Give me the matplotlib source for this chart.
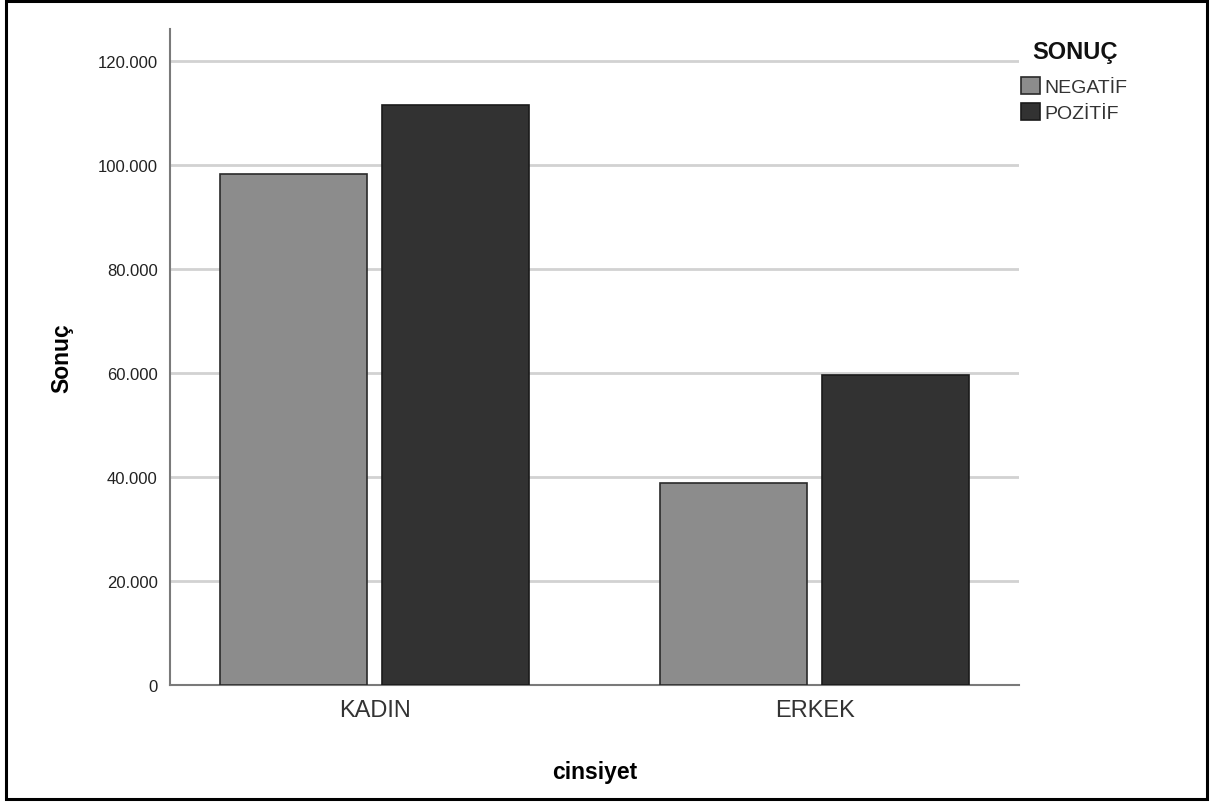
import matplotlib
matplotlib.use("Agg")
import matplotlib.pyplot as plt
import numpy as np
from matplotlib.patches import Rectangle
from matplotlib.ticker import FuncFormatter

categories = ["KADIN", "ERKEK"]
series_names = ["NEGATİF", "POZİTİF"]
negatif = [98300, 38900]
pozitif = [111600, 59700]
yticks = [0, 20000, 40000, 60000, 80000, 100000, 120000]
colors = ["#8c8c8c", "#323232"]

W, H = 1211, 803
fig = plt.figure(figsize=(W / 100, H / 100), dpi=100)
fig.patch.set_facecolor("white")
plt.rcParams["font.family"] = ["Liberation Sans", "DejaVu Sans"]

def fx(px):
    return px / W

def fy(py):
    return 1 - py / H

ax = fig.add_axes([fx(170), fy(686), fx(1019) - fx(170), fy(30) - fy(686)])

x = np.arange(len(categories))
bw = 0.334
off = 0.184
b1 = ax.bar(x - off, negatif, bw, color=colors[0], edgecolor="#2a2a2a", linewidth=1.2, label=series_names[0], zorder=3)
b2 = ax.bar(x + off, pozitif, bw, color=colors[1], edgecolor="#1a1a1a", linewidth=1.2, label=series_names[1], zorder=3)

ax.set_xlim(-0.465, 1.464)
ax.set_ylim(0, 126150)
ax.set_yticks(yticks)
ax.yaxis.set_major_formatter(FuncFormatter(lambda v, p: "0" if v == 0 else f"{int(v):,}".replace(",", ".")))
ax.set_xticks(x)
ax.set_xticklabels(categories, fontsize=17, color="#333333")
ax.tick_params(axis="y", length=0, labelsize=12, pad=9, labelcolor="#222222")
ax.tick_params(axis="x", length=0, pad=10)

ax.grid(axis="y", color="#d2d2d2", linewidth=2, zorder=0)
ax.set_axisbelow(True)
for s in ["top", "right"]:
    ax.spines[s].set_visible(False)
for s in ["left", "bottom"]:
    ax.spines[s].set_color("#7a7a7a")
    ax.spines[s].set_linewidth(1.5)

ax.set_ylabel("Sonuç", fontsize=16.5, fontweight="bold", labelpad=17)
ax.set_xlabel("cinsiyet", fontsize=16.5, fontweight="bold", labelpad=28)

leg = fig.legend(handles=[b1, b2], labels=series_names,
                 loc="upper left", bbox_to_anchor=(fx(1021), fy(78)),
                 frameon=False, fontsize=14,
                 handlelength=1.0, handleheight=1.0, handletextpad=0.18,
                 labelspacing=0.34, borderpad=0, borderaxespad=0)
for t in leg.get_texts():
    t.set_color("#333333")
fig.text(fx(1032), fy(53), "SONUÇ", fontsize=17, fontweight="bold",
         ha="left", va="center", color="#111111")

fig.patches.append(Rectangle((fx(6), fy(800)), fx(1207) - fx(6), fy(2) - fy(800),
                             transform=fig.transFigure, fill=False,
                             edgecolor="black", linewidth=2.2))

fig.savefig("out.png", dpi=100)
